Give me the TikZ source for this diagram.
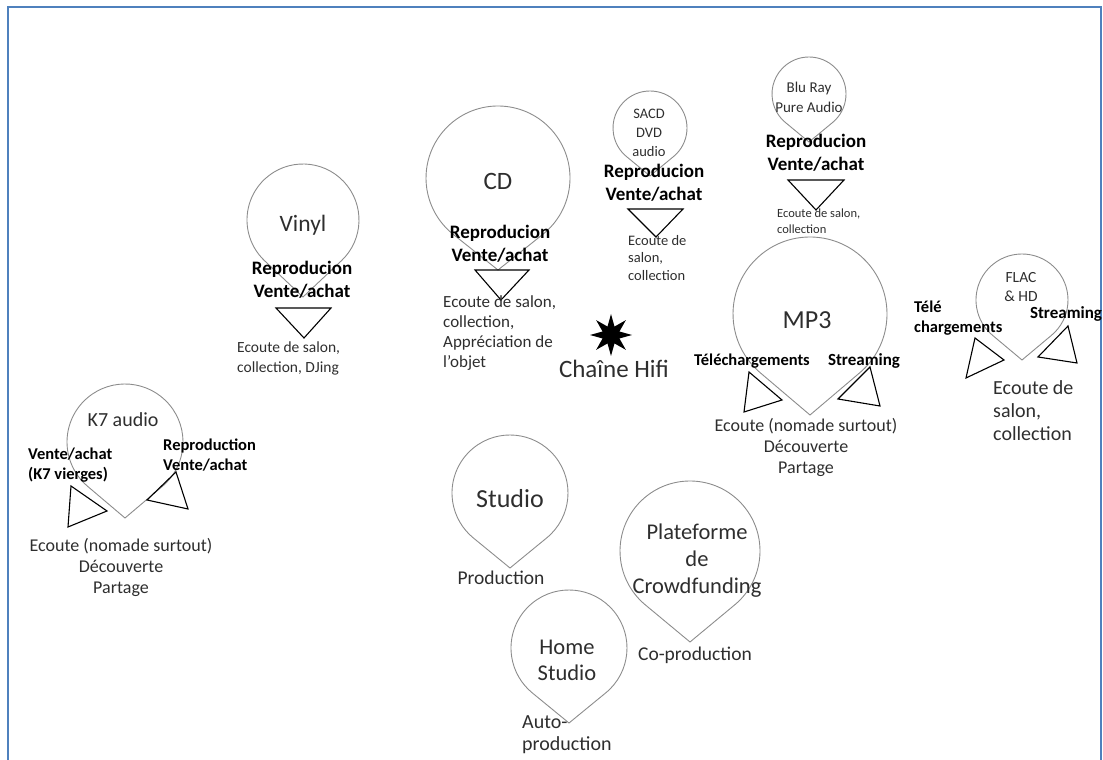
\documentclass[tikz,border=0pt]{standalone}
\usepackage{fontspec}
\setmainfont{Carlito}
\usetikzlibrary{shapes.geometric}
\definecolor{frameblue}{RGB}{79,129,189}
\tikzset{
  pinline/.style={draw=black!45, line width=0.9pt},
  tri/.style={draw=black, line width=1.1pt, line join=miter},
  txt/.style={text=black!82, inner sep=0pt, align=center},
  hdr/.style={inner sep=0pt, align=center, font=\bfseries\fontsize{19}{23}\selectfont},
  sub/.style={inner sep=0pt, align=left, font=\bfseries\fontsize{16.5}{20}\selectfont},
}
\begin{document}
\begin{tikzpicture}[x=1pt,y=1pt]
  \useasboundingbox (0,0) rectangle (1103,760);
  \draw[frameblue, line width=2pt] (8,0) -- (8,753) -- (1101,753) -- (1101,0);
  % pins: centre x / centre y / radius / distance of the tip
  \foreach \cx/\cy/\r/\d in {303/540/56/77, 498/582/72/92, 650/632/37/48,
      809/666/37/48, 810/446/77/101, 1022/460/46/60, 125/318/58/76,
      510/267/58/75, 690/209/70/91, 569/112/58/75}
  { \pgfmathsetmacro\ang{acos(\r/\d)}
    \draw[pinline] (\cx,\cy-\d) -- ({\cx+\r*sin(\ang)},{\cy-\r*cos(\ang)})
      arc[start angle={\ang-90}, end angle={270-\ang}, radius=\r] -- cycle; }
  % triangles
  \foreach \a/\b/\c in {{276,452}/{331,452}/{304,422}, {475,490}/{529,490}/{501,460},
      {628,551}/{683,551}/{656,523}, {788,580}/{844,580}/{816,550},
      {749,388}/{744,348}/{782,360}, {870,393}/{880,354}/{838,361},
      {975,422}/{966,382}/{1004,400}, {1068,434}/{1077,397}/{1038,403},
      {71,274}/{68,233}/{107,249}, {176,288}/{188,251}/{147,260}}
  { \draw[tri] (\a) -- (\b) -- (\c) -- cycle; }

  % Vinyl
  \node[txt, font=\fontsize{23.5}{27}\selectfont] (vinyl) at (303,535) {Vinyl};
  \node[hdr] (vinylsale) at (302,480) {Reproducion\\Vente/achat};
  \node[txt, anchor=west, align=left, font=\fontsize{15.5}{20}\selectfont] (vinyluse) at (237,402) {Ecoute de salon,\\collection, DJing};
  % CD
  \node[txt, font=\fontsize{25}{30}\selectfont] (cd) at (498,579) {CD};
  \node[hdr] (cdsale) at (500,516) {Reproducion\\Vente/achat};
  \node[txt, anchor=west, align=left, font=\fontsize{17}{20}\selectfont] (cduse) at (443,427) {Ecoute de salon,\\collection,\\Appréciation de\\l’objet};
  % SACD
  \node[txt, font=\fontsize{14.5}{19}\selectfont] (sacd) at (649,627) {SACD\\DVD\\audio};
  \node[hdr] (sacdsale) at (654,577) {Reproducion\\Vente/achat};
  \node[txt, anchor=west, align=left, font=\fontsize{14.5}{17.5}\selectfont] (sacduse) at (628,502) {Ecoute de\\salon,\\collection};
  % Blu Ray
  \node[txt, font=\fontsize{15}{20}\selectfont] (bluray) at (809,663) {Blu Ray\\Pure Audio};
  \node[hdr] (bluraysale) at (816,607) {Reproducion\\Vente/achat};
  \node[txt, anchor=west, align=left, font=\fontsize{12.5}{16}\selectfont] (blurayuse) at (777,539) {Ecoute de salon,\\collection};
  % MP3
  \node[txt, font=\fontsize{26}{30}\selectfont] (mp3) at (807,440) {MP3};
  \node[sub] (mpdown) at (752,399) {Téléchargements};
  \node[sub, font=\bfseries\fontsize{17}{20}\selectfont] (mpstream) at (864,399) {Streaming};
  \node[txt, font=\fontsize{18}{21}\selectfont] (mpuse) at (806,313) {Ecoute (nomade surtout)\\Découverte\\Partage};
  % FLAC
  \node[txt, font=\fontsize{15.5}{19}\selectfont] (flac) at (1021,473) {FLAC\\\& HD};
  \node[sub, anchor=west] (flacdown) at (914,442) {Télé\\chargements};
  \node[sub, font=\bfseries\fontsize{17}{20}\selectfont] (flacstream) at (1066,446) {Streaming};
  \node[txt, anchor=west, align=left, font=\fontsize{20}{23}\selectfont] (flacuse) at (993,349) {Ecoute de\\salon,\\collection};
  % K7
  \node[txt, font=\fontsize{20}{24}\selectfont] (kseven) at (123,340) {K7 audio};
  \node[sub, anchor=west] (ksevenblank) at (28,295) {Vente/achat\\(K7 vierges)};
  \node[sub, anchor=west] (ksevensale) at (163,305) {Reproduction\\Vente/achat};
  \node[txt, font=\fontsize{18}{21}\selectfont] (ksevenuse) at (121,193) {Ecoute (nomade surtout)\\Découverte\\Partage};
  % Chaine Hifi
  \node[star, star points=8, star point ratio=2.3, fill=black, minimum size=42pt, inner sep=0pt] (hifistar) at (611,425) {};
  \node[txt, font=\fontsize{25}{28}\selectfont] (hifi) at (614,391) {Chaîne Hifi};
  % production
  \node[txt, font=\fontsize{26}{30}\selectfont] (studio) at (510,261) {Studio};
  \node[txt, font=\fontsize{19.5}{23}\selectfont] (studiouse) at (501,182) {Production};
  \node[txt, font=\fontsize{22.5}{27}\selectfont] (crowd) at (697,199) {Plateforme\\de\\Crowdfunding};
  \node[txt, font=\fontsize{19.5}{23}\selectfont] (crowduse) at (695,105) {Co-production};
  \node[txt, font=\fontsize{22.5}{26}\selectfont] (home) at (567,100) {Home\\Studio};
  \node[txt, anchor=west, align=left, font=\fontsize{20}{22}\selectfont] (homeuse) at (522,25) {Auto-\\production};
\end{tikzpicture}
\end{document}
